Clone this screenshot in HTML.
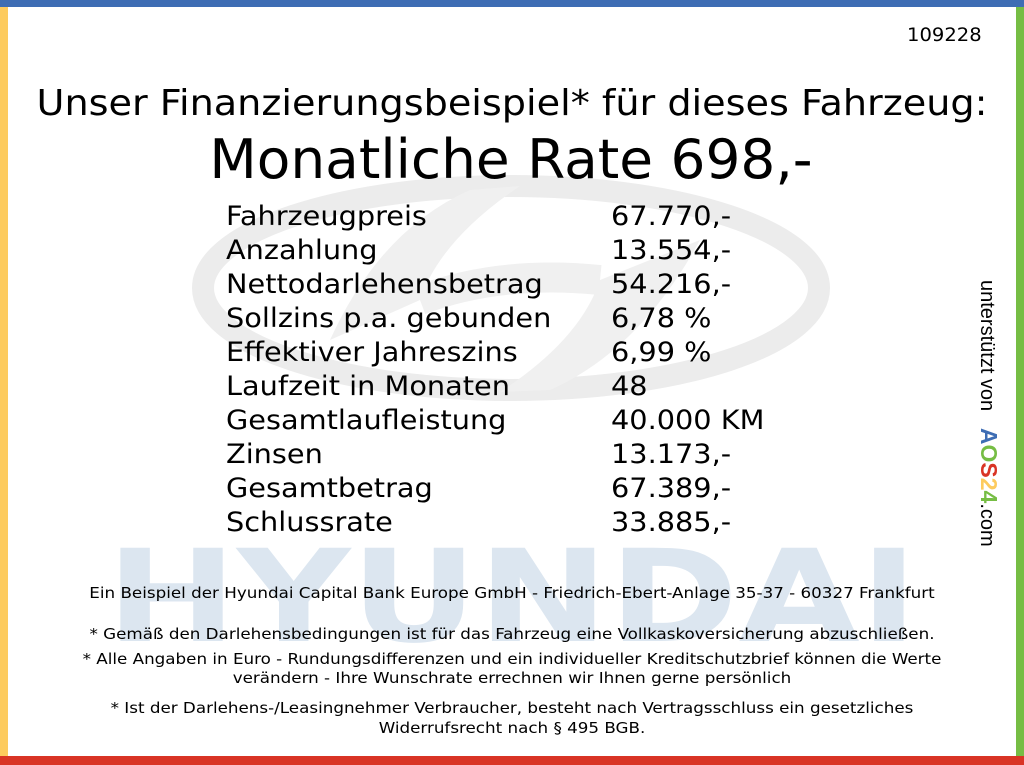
<!DOCTYPE html>
<html><head><meta charset="utf-8"><style>
html,body{margin:0;padding:0}
body{width:1024px;height:765px;position:relative;overflow:hidden;background:#fff;font-family:"DejaVu Sans","Liberation Sans",sans-serif;color:#000}
.a{position:absolute;white-space:nowrap;line-height:1}
.c{left:0;width:1024px;text-align:center;transform-origin:512px 0}
.f{font-family:"DejaVu Sans Condensed","DejaVu Sans",sans-serif;font-stretch:condensed;font-size:15.5px;transform:scaleX(1.2)}
.r{position:absolute;font-size:26.5px;line-height:34px;white-space:nowrap;transform-origin:0 0;transform:scaleX(1.085)}
</style></head><body>
<svg class="a" style="left:0;top:0" width="1024" height="765">
<ellipse cx="511" cy="288" rx="308" ry="102" fill="none" stroke="#ececec" stroke-width="22"/>
<path d="M330 340 Q380 230 470 190 L520 186 Q440 240 420 300 Z" fill="#f0f0f0"/>
<path d="M700 240 Q640 350 550 390 L500 392 Q580 340 600 280 Z" fill="#f0f0f0"/>
<path d="M420 300 Q500 270 600 280" stroke="#f0f0f0" stroke-width="30" fill="none"/>
<text x="512" y="641" text-anchor="middle" font-family="DejaVu Sans" font-weight="bold" font-size="128" fill="#dce6f0" textLength="812" lengthAdjust="spacingAndGlyphs">HYUNDAI</text>
</svg>
<div class="a" style="left:0;top:0;width:1024px;height:7px;background:#3e6db4"></div>
<div class="a" style="left:0;top:7px;width:8px;height:750px;background:#fdcb5e"></div>
<div class="a" style="left:1016px;top:7px;width:8px;height:750px;background:#76bd44"></div>
<div class="a" style="left:0;top:756px;width:1024px;height:9px;background:#d93425"></div>
<div class="a" style="left:907px;top:26px;font-size:19px;transform-origin:0 0;transform:scaleX(1.03)">109228</div>
<div class="a c" style="top:86px;font-size:36px;transform:scaleX(1.06)">Unser Finanzierungsbeispiel* für dieses Fahrzeug:</div>
<div class="a c" style="top:133px;font-size:54px;left:-1px;transform:scaleX(1.017)">Monatliche Rate 698,-</div>
<div class="r" style="left:226px;top:200px">Fahrzeugpreis<br>Anzahlung<br>Nettodarlehensbetrag<br>Sollzins p.a. gebunden<br>Effektiver Jahreszins<br>Laufzeit in Monaten<br>Gesamtlaufleistung<br>Zinsen<br>Gesamtbetrag<br>Schlussrate</div>
<div class="r" style="left:611px;top:200px">67.770,-<br>13.554,-<br>54.216,-<br>6,78 %<br>6,99 %<br>48<br>40.000 KM<br>13.173,-<br>67.389,-<br>33.885,-</div>
<div class="a" style="left:1000px;top:280px;transform-origin:0 0;transform:rotate(90deg);font-family:'Liberation Sans',sans-serif;font-size:20px">unterstützt von&nbsp;&nbsp;&nbsp;<b style="font-size:23px"><span style="color:#3e6db4">A</span><span style="color:#76bd44">O</span><span style="color:#d93425">S</span><span style="color:#fdcb5e">2</span><span style="color:#76bd44">4</span></b>.com</div>
<div class="a c f" style="top:586px">Ein Beispiel der Hyundai Capital Bank Europe GmbH - Friedrich-Ebert-Anlage 35-37 - 60327 Frankfurt</div>
<div class="a c f" style="top:627px">* Gemäß den Darlehensbedingungen ist für das Fahrzeug eine Vollkaskoversicherung abzuschließen.</div>
<div class="a c f" style="top:652px">* Alle Angaben in Euro - Rundungsdifferenzen und ein individueller Kreditschutzbrief können die Werte</div>
<div class="a c f" style="top:671px">verändern - Ihre Wunschrate errechnen wir Ihnen gerne persönlich</div>
<div class="a c f" style="top:701px">* Ist der Darlehens-/Leasingnehmer Verbraucher, besteht nach Vertragsschluss ein gesetzliches</div>
<div class="a c f" style="top:721px">Widerrufsrecht nach § 495 BGB.</div>
</body></html>
